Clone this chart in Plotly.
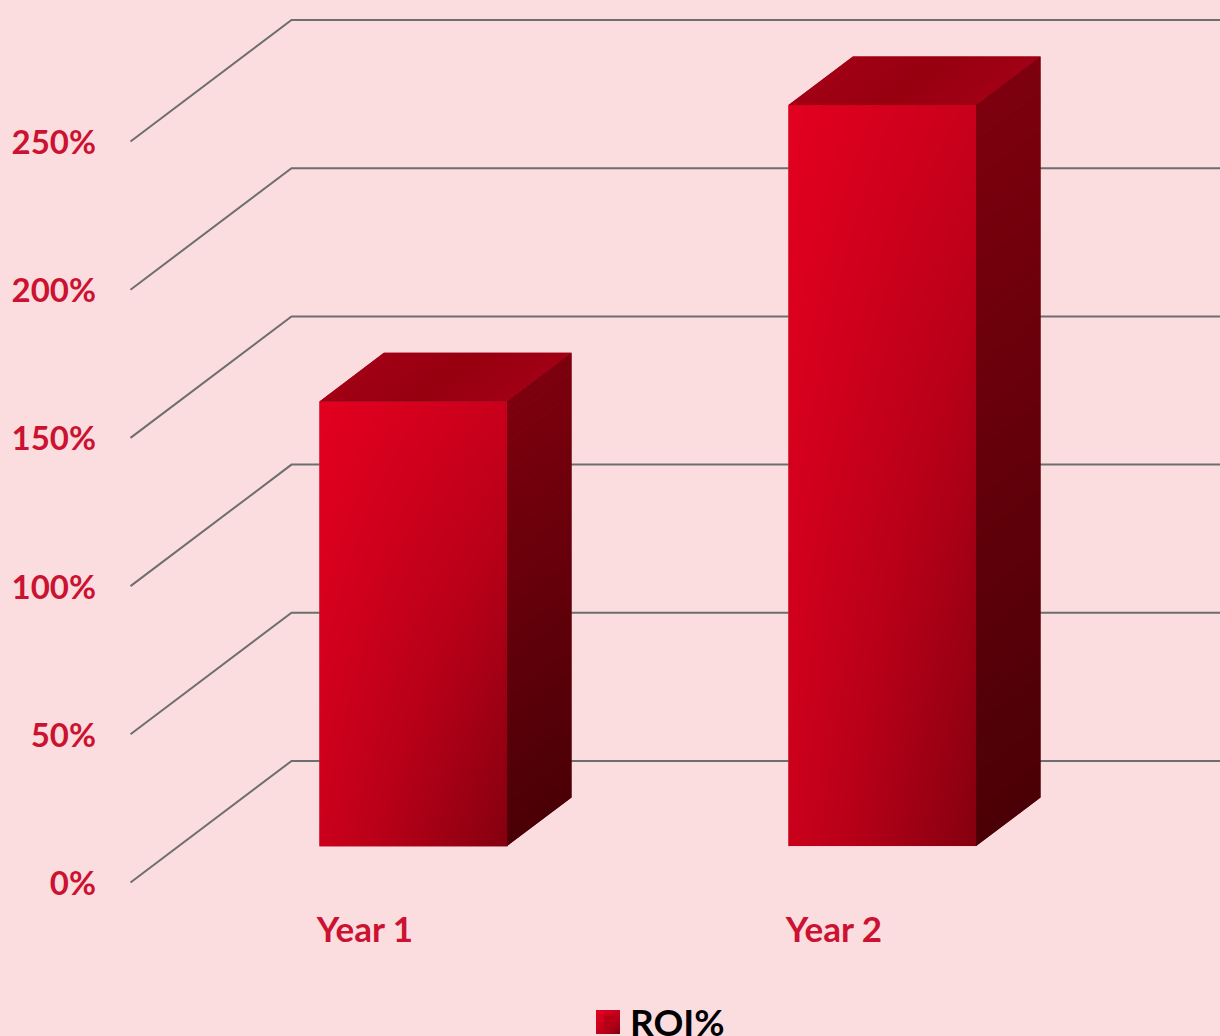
import numpy as np
import plotly.graph_objects as go

# ---- data ----
categories = ["Year 1", "Year 2"]
roi_values = [150, 250]
tick_values = [0, 50, 100, 150, 200, 250]
tick_labels = ["0%", "50%", "100%", "150%", "200%", "250%"]
series_name = "ROI%"

# ---- style ----
W, H = 1220, 1036
BG = "#FBDDE0"
TEXT = "#CC1231"
GRID = "#6E6E6E"
FONT = "Lato"
M_L, M_B = 100, 136
PLOT_W, PLOT_H = W - M_L, H - M_B
PX_X = 469.0          # pixels per category
PX_Y = 148.2 / 50     # pixels per percent
X0_P, Y0_P = 365.0, 882.5
XR = [(M_L - X0_P) / PX_X, (W - X0_P) / PX_X]
YR = [(Y0_P - PLOT_H) / PX_Y, Y0_P / PX_Y]
DEPTH_X = 161.0 / PX_X
DEPTH_Y = 121.5 / PX_Y
FRONT, BACK = 0.30, 0.70
BAR_W = 0.40
WALL_RIGHT = XR[1] + 1
DOM_X = [M_L / W, 1]
DOM_Y = [M_B / H, 1]

def lerp_hex(a, b, t):
    c = [int(a[i:i+2], 16) + (int(b[i:i+2], 16) - int(a[i:i+2], 16)) * t for i in (1, 3, 5)]
    return "rgb(%d,%d,%d)" % tuple(round(v) for v in c)

def poly(fig, xs, ys, col):
    fig.add_trace(go.Scatter(x=xs + xs[:1], y=ys + ys[:1], mode="lines", fill="toself",
                             fillcolor=col, line=dict(width=0), showlegend=False,
                             hoverinfo="skip", xaxis="x2", yaxis="y2"))

fig = go.Figure()

# back wall + floor lines (primary axes)
x_left = -0.5
for v in tick_values:
    fig.add_trace(go.Scatter(
        x=[x_left, x_left + DEPTH_X, WALL_RIGHT],
        y=[v, v + DEPTH_Y, v + DEPTH_Y],
        mode="lines", line=dict(color=GRID, width=2),
        showlegend=False, hoverinfo="skip"))

# the bars, with the value data (primary axes)
positions = list(range(len(categories)))
fig.add_trace(go.Bar(
    x=[p + FRONT * DEPTH_X for p in positions], y=roi_values,
    base=FRONT * DEPTH_Y, width=BAR_W, name=series_name,
    marker=dict(color="#B40016", line=dict(width=0)),
    showlegend=True, hovertemplate="%{y}%<extra></extra>"))

# gradient front faces and oblique faces (overlay axes, on top of the grid)
FRONT_SCALE = [[0, "#E2001F"], [0.5, "#B80018"], [1, "#84000F"]]
N = 60
for p, v in zip(positions, roi_values):
    left = p + FRONT * DEPTH_X - BAR_W / 2
    base = FRONT * DEPTH_Y
    u = (np.arange(N) + 0.5) / N
    vv = (np.arange(N) + 0.5) / N          # 0 at the top
    U, V = np.meshgrid(u, vv)
    Z = 0.30 * U + 0.28 * V + 0.42 * U * V
    fig.add_trace(go.Heatmap(
        x=left + u * BAR_W, y=base + v - vv * v, z=Z,
        colorscale=FRONT_SCALE, zmin=0, zmax=1, zsmooth="best",
        showscale=False, hoverinfo="skip", xaxis="x2", yaxis="y2"))

    d = (BACK - FRONT)
    dx, dy = d * DEPTH_X, d * DEPTH_Y
    top = base + v

    # top face: base polygon, then bands
    poly(fig, [left, left + BAR_W, left + BAR_W + dx, left + dx],
         [top, top, top + dy, top + dy], "#9C0012")
    S = 24
    for k in range(S):
        a0, a1 = k / S, (k + 1) / S
        col = lerp_hex("#A20015", "#96000F", 1 - abs(2 * (k + .5) / S - 1))
        poly(fig, [left + a0 * BAR_W, left + a1 * BAR_W, left + a1 * BAR_W + dx, left + a0 * BAR_W + dx],
             [top, top, top + dy, top + dy], col)

    # side face: base polygon, then bands
    right = left + BAR_W
    poly(fig, [right, right + dx, right + dx, right],
         [top, top + dy, base + dy, base], "#64000A")
    S = 60
    for k in range(S):
        a0, a1 = k / S, (k + 1) / S
        col = lerp_hex("#7E000E", "#4A0006", (k + .5) / S)
        y_hi, y_lo = top - a0 * v, top - a1 * v
        poly(fig, [right, right + dx, right + dx, right],
             [y_hi, y_hi + dy, y_lo + dy, y_lo], col)

# gradient swatch for the legend key
def px(x): return x / W
def py(y): return (H - y) / H
shapes = []
for i in range(12):
    for j in range(12):
        t = 0.30 * (i + .5) / 12 + 0.28 * (j + .5) / 12 + 0.42 * (i + .5) * (j + .5) / 144
        col = lerp_hex("#E2001F", "#B80018", t * 2) if t < .5 else lerp_hex("#B80018", "#84000F", t * 2 - 1)
        shapes.append(dict(type="rect", xref="paper", yref="paper",
                           x0=px(596 + 2 * i), x1=px(598 + 2 * i),
                           y0=py(1010 + 2 * j), y1=py(1012 + 2 * j),
                           fillcolor=col, line=dict(width=0), layer="above"))

fig.update_layout(
    width=W, height=H, autosize=False,
    paper_bgcolor=BG, plot_bgcolor=BG,
    margin=dict(l=0, r=0, t=0, b=0, pad=0, autoexpand=False),
    font=dict(family=FONT, color=TEXT),
    shapes=shapes,
    barmode="overlay",
    xaxis=dict(domain=DOM_X, range=XR, tickmode="array", tickvals=positions, ticktext=categories,
               showgrid=False, zeroline=False, showline=False, ticks="", fixedrange=True,
               tickfont=dict(family=FONT, size=35, color=TEXT, weight="bold"),
               ticklabelstandoff=6),
    yaxis=dict(domain=DOM_Y, range=YR, tickmode="array", tickvals=tick_values, ticktext=tick_labels,
               showgrid=False, zeroline=False, showline=False, ticks="", fixedrange=True,
               tickfont=dict(family=FONT, size=33, color=TEXT, weight="bold"),
               ticklabelstandoff=3, ticklabelshift=1),
    xaxis2=dict(domain=DOM_X, range=XR, overlaying="x", visible=False, fixedrange=True),
    yaxis2=dict(domain=DOM_Y, range=YR, overlaying="y", visible=False, fixedrange=True),
    legend=dict(orientation="h", xref="container", yref="container",
                x=px(590), y=py(991), xanchor="left", yanchor="top",
                bgcolor="rgba(0,0,0,0)", font=dict(family=FONT, size=37, color="#000000", weight="bold"),
                itemclick=False, itemdoubleclick=False),
    showlegend=True,
)

fig.write_html("out.html", config={"displayModeBar": False},
               post_script="document.body.style.margin='0';document.body.style.background='%s';" % BG)
